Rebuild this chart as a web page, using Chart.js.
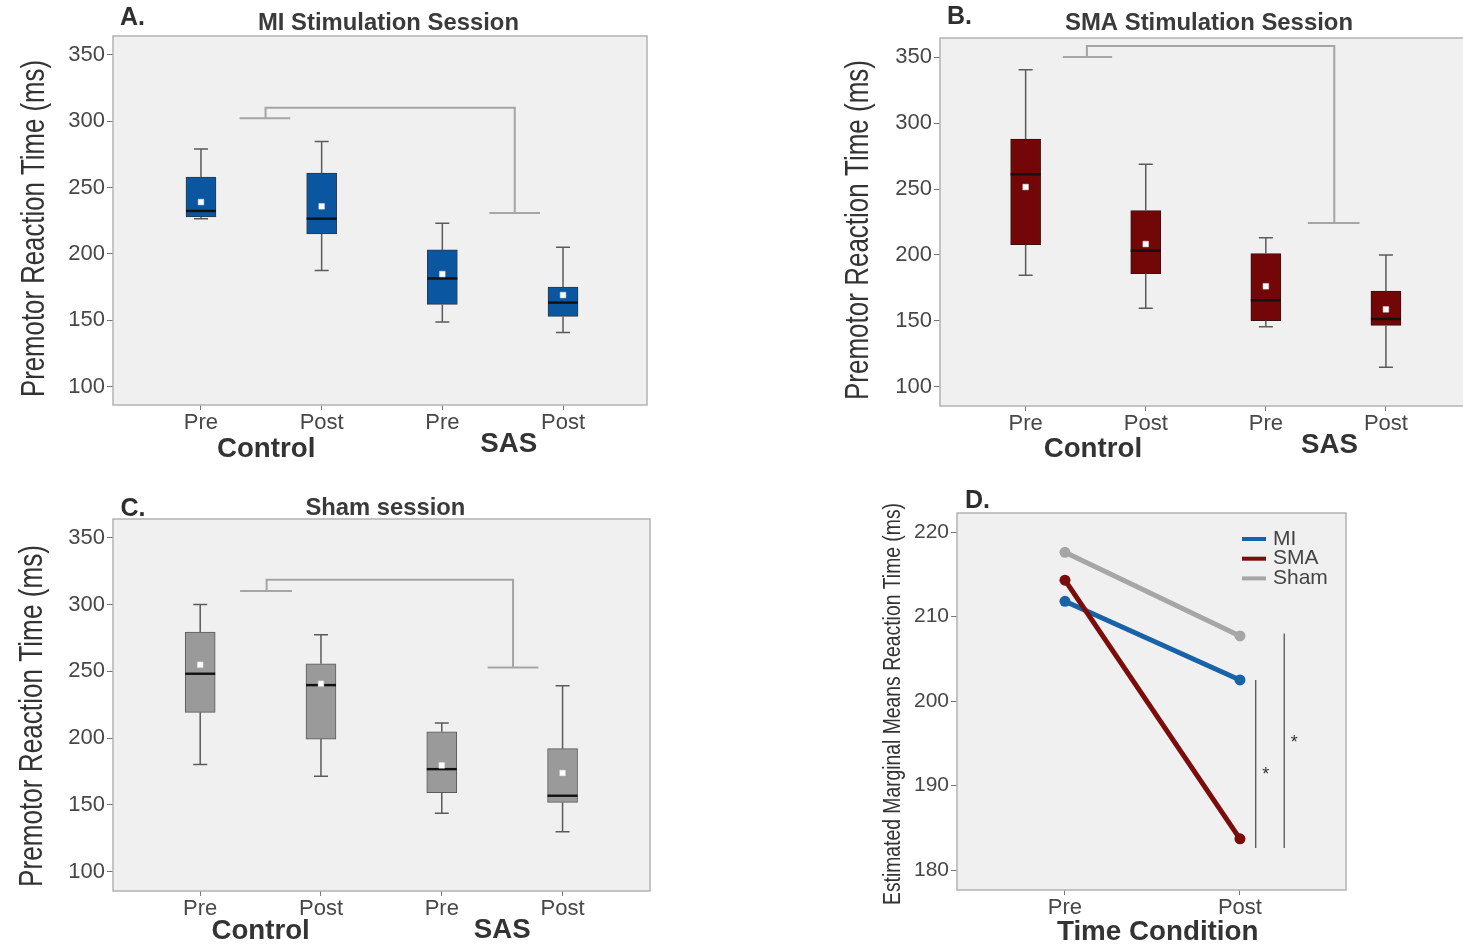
<!DOCTYPE html>
<html><head><meta charset="utf-8">
<script src="https://cdn.jsdelivr.net/npm/chart.js@4.4.1/dist/chart.umd.min.js"></script>
<style>
html,body{margin:0;padding:0;background:#fff;overflow:hidden;width:1463px;height:946px;}
canvas{position:absolute;display:block;}
</style></head><body>
<canvas id="cA" width="700" height="470" style="left:0;top:0"></canvas>
<canvas id="cB" width="700" height="470" style="left:830px;top:0"></canvas>
<canvas id="cC" width="700" height="466" style="left:0;top:480px"></canvas>
<canvas id="cD" width="500" height="466" style="left:860px;top:480px"></canvas>
<script>
// ---------- DATA ----------
const xLabels = ['Pre', 'Post', 'Pre', 'Post'];
const groupLabels = ['Control', 'SAS'];
const yTicks = [100, 150, 200, 250, 300, 350];

// Panel A: MI stimulation session
const miLow    = [226.5, 187.5, 148.8, 140.8];
const miQ1     = [227.8, 215.0, 162.0, 153.0];
const miMedian = [232.3, 226.5, 181.5, 163.3];
const miQ3     = [257.8, 260.8, 203.0, 175.0];
const miHigh   = [279.0, 284.5, 223.0, 205.0];
const miMean   = [239.0, 235.8, 184.8, 169.0];

// Panel B: SMA stimulation session
const smaLow    = [184.6, 159.6, 145.7, 114.9];
const smaQ1     = [207.8, 185.9, 150.3, 146.7];
const smaMedian = [261.1, 203.3, 165.7, 151.5];
const smaQ3     = [287.9, 233.6, 201.0, 172.7];
const smaHigh   = [340.4, 268.7, 213.1, 200.0];
const smaMean   = [251.5, 208.3, 176.3, 158.8];

// Panel C: Sham session
const shamLow    = [180.3, 171.4, 143.7, 129.9];
const shamQ1     = [219.3, 199.3, 159.1, 151.9];
const shamMedian = [248.2, 239.7, 176.8, 156.9];
const shamQ3     = [279.4, 255.7, 204.8, 192.1];
const shamHigh   = [300.1, 277.4, 211.3, 239.2];
const shamMean   = [254.9, 240.7, 179.6, 173.9];

// Significance brackets: [leftX0, leftX1, leftY, stemX, topY, rightStemX, rightY, rightX0, rightX1]
const bracketA = [1.32, 1.74, 302.0, 1.535, 310.0, 3.60, 230.8, 3.39, 3.81];
const bracketB = [1.31, 1.72, 350.0, 1.51, 358.3, 3.57, 224.2, 3.35, 3.78];
const bracketC = [1.33, 1.76, 310.1, 1.55, 318.6, 3.59, 252.9, 3.38, 3.80];

// Panel D: estimated marginal means
const timeLabels = ['Pre', 'Post'];
const emmTicks = [180, 190, 200, 210, 220];
const emmMI   = [211.8, 202.5];
const emmSMA  = [214.3, 183.7];
const emmSham = [217.6, 207.7];
// significance lines: [x, yLow, yHigh, starX, starY]
const sigLine1 = [2.09, 182.6, 202.5, 2.147, 191.6];
const sigLine2 = [2.253, 182.6, 208.0, 2.31, 195.4];

// ---------- STYLE / HELPERS ----------
const FAM = "'Liberation Sans', Arial, sans-serif";
const TXT = '#333333';
const TICK = '#474747';
const mctx = document.createElement('canvas').getContext('2d');
function fit(text, weight, family, width) {
  mctx.font = weight + ' 100px ' + family;
  return 100 * width / mctx.measureText(text).width;
}
function drawText(ctx, text, x, y, font, color, align, rot) {
  ctx.save();
  ctx.font = font; ctx.fillStyle = color;
  ctx.textAlign = align || 'center'; ctx.textBaseline = 'middle';
  ctx.translate(x, y);
  if (rot) ctx.rotate(rot);
  ctx.fillText(text, 0, 0);
  ctx.restore();
}
// text drawn at a given size, condensed along its direction to a given width
function drawCondensed(ctx, text, x, y, weight, size, width, color, rot) {
  ctx.save();
  ctx.font = weight + ' ' + size + 'px ' + FAM; ctx.fillStyle = color;
  ctx.textAlign = 'center'; ctx.textBaseline = 'middle';
  const f = width / ctx.measureText(text).width;
  ctx.translate(x, y);
  if (rot) ctx.rotate(rot);
  ctx.scale(f, 1);
  ctx.fillText(text, 0, 0);
  ctx.restore();
}
function frame(chart) {
  const {ctx, chartArea: a} = chart;
  ctx.save();
  ctx.strokeStyle = '#b3b3b3'; ctx.lineWidth = 1.5;
  ctx.strokeRect(a.left, a.top, a.width, a.height);
  ctx.restore();
}
function bg(chart) {
  const {ctx, chartArea: a} = chart;
  ctx.save(); ctx.fillStyle = '#f0f0f0';
  ctx.fillRect(a.left, a.top, a.width, a.height); ctx.restore();
}

const groupSize = fit('Control', 'bold', FAM, 98.5);

function boxExtras(p) {
  return {
    id: 'boxExtras' + p.key,
    beforeDraw(chart) { bg(chart); },
    afterDatasetDraw(chart, args) {
      if (args.index !== 0) return;
      const {ctx, scales: {x, y}} = chart;
      ctx.save();
      for (let i = 0; i < xLabels.length; i++) {
        const cx = x.getPixelForValue(i + 1);
        ctx.strokeStyle = '#5a5a5a'; ctx.lineWidth = 1.5;
        ctx.beginPath();
        ctx.moveTo(cx, y.getPixelForValue(p.hi[i])); ctx.lineTo(cx, y.getPixelForValue(p.q3[i]));
        ctx.moveTo(cx, y.getPixelForValue(p.q1[i])); ctx.lineTo(cx, y.getPixelForValue(p.lo[i]));
        ctx.moveTo(cx - 7, y.getPixelForValue(p.hi[i])); ctx.lineTo(cx + 7, y.getPixelForValue(p.hi[i]));
        ctx.moveTo(cx - 7, y.getPixelForValue(p.lo[i])); ctx.lineTo(cx + 7, y.getPixelForValue(p.lo[i]));
        ctx.stroke();
        ctx.strokeStyle = '#111'; ctx.lineWidth = 2.4;
        ctx.beginPath();
        ctx.moveTo(cx - 15, y.getPixelForValue(p.med[i])); ctx.lineTo(cx + 15, y.getPixelForValue(p.med[i]));
        ctx.stroke();
      }
      ctx.restore();
    },
    afterDraw(chart) {
      const {ctx, scales: {x, y}, chartArea: a} = chart;
      frame(chart);
      const b = p.bracket;
      ctx.save();
      ctx.strokeStyle = '#a5a5a5'; ctx.lineWidth = 2;
      ctx.beginPath();
      ctx.moveTo(x.getPixelForValue(b[0]), y.getPixelForValue(b[2]));
      ctx.lineTo(x.getPixelForValue(b[1]), y.getPixelForValue(b[2]));
      ctx.moveTo(x.getPixelForValue(b[3]), y.getPixelForValue(b[2]));
      ctx.lineTo(x.getPixelForValue(b[3]), y.getPixelForValue(b[4]));
      ctx.lineTo(x.getPixelForValue(b[5]), y.getPixelForValue(b[4]));
      ctx.lineTo(x.getPixelForValue(b[5]), y.getPixelForValue(b[6]));
      ctx.moveTo(x.getPixelForValue(b[7]), y.getPixelForValue(b[6]));
      ctx.lineTo(x.getPixelForValue(b[8]), y.getPixelForValue(b[6]));
      ctx.stroke();
      ctx.restore();
      // titles
      drawText(ctx, p.letter, p.letterPos[0], p.letterPos[1], 'bold 25px ' + FAM, '#2e2e2e', 'left');
      drawCondensed(ctx, p.title, p.titlePos[0], p.titlePos[1], 'bold', 24, p.titleW, '#3a3a3a', 0);
      drawCondensed(ctx, p.yTitle, p.yTitlePos[0], p.yTitlePos[1], 'normal', 34, p.yTitleW, TXT, -Math.PI / 2);
      // group labels
      for (let g = 0; g < groupLabels.length; g++) {
        drawText(ctx, groupLabels[g], x.getPixelForValue(p.groupX[g]), a.bottom + p.groupDy[g],
          'bold ' + groupSize + 'px ' + FAM, TXT, 'center');
      }
    }
  };
}

function makeBox(id, p) {
  const cv = document.getElementById(id);
  return new Chart(cv, {
    type: 'bar',
    data: { datasets: [
      { data: xLabels.map((_, i) => ({x: i + 1, y: [p.q1[i], p.q3[i]]})),
        backgroundColor: p.fill, borderColor: p.edge, borderWidth: 1, borderSkipped: false,
        barThickness: 30, order: 2 },
      { type: 'line', data: p.mean.map((v, i) => ({x: i + 1, y: v})), showLine: false,
        pointStyle: 'rect', pointRadius: 4, pointBackgroundColor: '#ffffff',
        pointBorderColor: '#dddddd', pointBorderWidth: 0.5, order: 1 }
    ]},
    options: {
      responsive: false, animation: false, events: [],
      layout: { autoPadding: false, padding: { left: 0, top: p.area.top, right: cv.width - p.area.right, bottom: 0 } },
      plugins: { legend: { display: false }, tooltip: { enabled: false } },
      scales: {
        x: { type: 'linear', min: p.xMin, max: p.xMax, offset: false,
          afterBuildTicks: s => { s.ticks = xLabels.map((_, i) => ({value: i + 1})); },
          afterFit: s => { s.height = cv.height - p.area.bottom; },
          ticks: { callback: v => xLabels[v - 1], font: { family: FAM, size: 22 }, color: TICK,
                   padding: 0, maxRotation: 0, autoSkip: false },
          grid: { display: true, drawOnChartArea: false, drawTicks: true, tickLength: 5, color: '#777', offset: false },
          border: { display: false } },
        y: { type: 'linear', min: p.yMin, max: p.yMax,
          afterBuildTicks: s => { s.ticks = yTicks.map(v => ({value: v})); },
          afterFit: s => { s.width = p.area.left; },
          ticks: { font: { family: FAM, size: 22 }, color: TICK, padding: 2 },
          grid: { drawOnChartArea: false, tickLength: 6, color: '#777' },
          border: { display: false } }
      }
    },
    plugins: [boxExtras(p)]
  });
}

makeBox('cA', { key: 'A', lo: miLow, q1: miQ1, med: miMedian, q3: miQ3, hi: miHigh, mean: miMean,
  fill: '#0a56a0', edge: '#2a3a4a', area: { left: 113, right: 647, top: 36, bottom: 405 },
  xMin: 0.271, xMax: 4.696, yMin: 86.25, yMax: 364, bracket: bracketA,
  letter: 'A.', letterPos: [120, 18.5], title: 'MI Stimulation Session', titlePos: [388.5, 23.5], titleW: 261,
  yTitle: 'Premotor Reaction Time (ms)', yTitlePos: [35, 228.5], yTitleW: 337,
  groupX: [1.54, 3.55], groupDy: [44, 39] });

makeBox('cB', { key: 'B', lo: smaLow, q1: smaQ1, med: smaMedian, q3: smaQ3, hi: smaHigh, mean: smaMean,
  fill: '#730707', edge: '#3a1010', area: { left: 110, right: 640, top: 38, bottom: 406 },
  xMin: 0.287, xMax: 4.70, yMin: 85.6, yMax: 364.4, bracket: bracketB,
  letter: 'B.', letterPos: [117, 16.7], title: 'SMA Stimulation Session', titlePos: [379, 23.5], titleW: 288,
  yTitle: 'Premotor Reaction Time (ms)', yTitlePos: [29, 230], yTitleW: 340,
  groupX: [1.56, 3.53], groupDy: [43, 39] });

makeBox('cC', { key: 'C', lo: shamLow, q1: shamQ1, med: shamMedian, q3: shamQ3, hi: shamHigh, mean: shamMean,
  fill: '#9a9a9a', edge: '#5a5a5a', area: { left: 113, right: 650, top: 39, bottom: 411 },
  xMin: 0.278, xMax: 4.724, yMin: 85.6, yMax: 364, bracket: bracketC,
  letter: 'C.', letterPos: [120.5, 29], title: 'Sham session', titlePos: [385.4, 28.5], titleW: 160,
  yTitle: 'Premotor Reaction Time (ms)', yTitlePos: [33, 236], yTitleW: 342,
  groupX: [1.50, 3.50], groupDy: [40.5, 39] });

// ---------- PANEL D ----------
(function () {
  const cv = document.getElementById('cD');
  const area = { left: 97, right: 486, top: 33, bottom: 410 };
  const mk = (arr) => arr.map((v, i) => ({x: i + 1, y: v}));
  const lineDs = (label, arr, color, order) => ({ label, data: mk(arr), borderColor: color, backgroundColor: color,
    pointBackgroundColor: color, pointBorderColor: color, borderWidth: 5, pointRadius: 5.5, pointBorderWidth: 0, order });
  const plugin = {
    id: 'emmExtras',
    beforeDraw(chart) { bg(chart); },
    afterDraw(chart) {
      const {ctx, scales: {x, y}, chartArea: a} = chart;
      frame(chart);
      ctx.save();
      ctx.strokeStyle = '#555'; ctx.lineWidth = 1.3;
      [sigLine1, sigLine2].forEach(s => {
        ctx.beginPath();
        ctx.moveTo(x.getPixelForValue(s[0]), y.getPixelForValue(s[1]));
        ctx.lineTo(x.getPixelForValue(s[0]), y.getPixelForValue(s[2]));
        ctx.stroke();
        drawText(ctx, '*', x.getPixelForValue(s[3]), y.getPixelForValue(s[4]) + 3, '18px ' + FAM, '#333', 'center');
      });
      // legend
      chart.data.datasets.forEach((d, i) => {
        const ly = a.top + 26 + i * 19.7;
        ctx.strokeStyle = d.borderColor; ctx.lineWidth = 4;
        ctx.beginPath(); ctx.moveTo(a.right - 104, ly); ctx.lineTo(a.right - 80, ly); ctx.stroke();
        drawText(ctx, d.label, a.right - 73, ly, '21px ' + FAM, '#444', 'left');
      });
      ctx.restore();
      drawText(ctx, 'D.', 105, 21, 'bold 25px ' + FAM, '#2e2e2e', 'left');
      drawCondensed(ctx, 'Estimated Marginal Means Reaction Time (ms)', 34, 224, 'normal', 23, 402, TXT, -Math.PI / 2);
      const tc = 'Time Condition';
      const ts = fit(tc, 'bold', FAM, 201.6);
      drawText(ctx, tc, x.getPixelForValue(1.53), a.bottom + 42, 'bold ' + ts + 'px ' + FAM, TXT, 'center');
    }
  };
  new Chart(cv, {
    type: 'line',
    data: { datasets: [
      lineDs('MI', emmMI, '#1863a8', 2),
      lineDs('SMA', emmSMA, '#7a0c0c', 1),
      lineDs('Sham', emmSham, '#a6a6a6', 3)
    ]},
    options: {
      responsive: false, animation: false, events: [],
      layout: { autoPadding: false, padding: { left: 0, top: area.top, right: cv.width - area.right, bottom: 0 } },
      plugins: { legend: { display: false }, tooltip: { enabled: false } },
      scales: {
        x: { type: 'linear', min: 0.383, max: 2.606, offset: false,
          afterBuildTicks: s => { s.ticks = timeLabels.map((_, i) => ({value: i + 1})); },
          afterFit: s => { s.height = cv.height - area.bottom; },
          ticks: { callback: v => timeLabels[v - 1], font: { family: FAM, size: 22 }, color: TICK, padding: 0, maxRotation: 0, autoSkip: false },
          grid: { drawOnChartArea: false, tickLength: 5, color: '#777' }, border: { display: false } },
        y: { type: 'linear', min: 177.64, max: 222.25,
          afterBuildTicks: s => { s.ticks = emmTicks.map(v => ({value: v})); },
          afterFit: s => { s.width = area.left; },
          ticks: { font: { family: FAM, size: 21 }, color: TICK, padding: 2 },
          grid: { drawOnChartArea: false, tickLength: 6, color: '#777' }, border: { display: false } }
      }
    },
    plugins: [plugin]
  });
})();
</script>
</body></html>
